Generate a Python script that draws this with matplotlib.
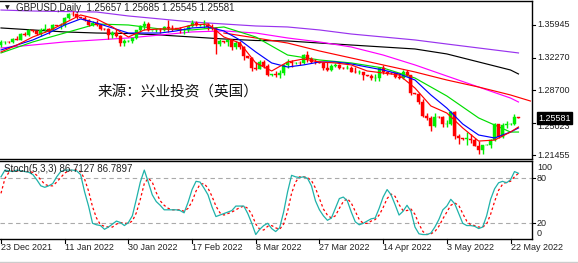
import matplotlib
matplotlib.use("Agg")
import matplotlib.pyplot as plt
import matplotlib.transforms as mtransforms
from matplotlib.patches import Rectangle

# ---------------- data ----------------
opens = [1.3365,1.3400,1.3405,1.3400,1.3440,1.3430,1.3495,1.3480,1.3530,1.3525,
         1.3490,1.3530,1.3545,1.3535,1.3590,1.3585,1.3595,1.3665,1.3715,1.3710,
         1.3675,1.3670,1.3645,1.3595,1.3615,1.3590,1.3550,1.3545,1.3485,1.3505,
         1.3465,1.3390,1.3410,1.3415,1.3445,1.3530,1.3575,1.3600,1.3530,1.3535,
         1.3540,1.3530,1.3565,1.3560,1.3555,1.3550,1.3530,1.3535,1.3580,1.3610,
         1.3590,1.3595,1.3595,1.3565,1.3555,1.3375,1.3410,1.3400,1.3420,1.3345,
         1.3390,1.3345,1.3245,1.3230,1.3110,1.3105,1.3180,1.3135,1.3040,1.3045,
         1.3035,1.3060,1.3145,1.3180,1.3170,1.3175,1.3170,1.3255,1.3215,1.3185,
         1.3180,1.3175,1.3110,1.3095,1.3140,1.3150,1.3115,1.3110,1.3115,1.3075,
         1.3070,1.3070,1.3035,1.3030,1.3000,1.3000,1.3110,1.3065,1.3060,1.3055,
         1.3010,1.3005,1.3070,1.3035,1.2835,1.2830,1.2740,1.2580,1.2555,1.2475,
         1.2575,1.2570,1.2490,1.2495,1.2625,1.2355,1.2335,1.2330,1.2330,1.2315,
         1.2250,1.2205,1.2260,1.2265,1.2315,1.2490,1.2350,1.2485,1.2490,1.2495,
         1.25657]
highs = [1.3420,1.3415,1.3410,1.3450,1.3465,1.3505,1.3515,1.3545,1.3535,1.3535,
         1.3560,1.3600,1.3560,1.3600,1.3595,1.3610,1.3675,1.3725,1.3750,1.3720,
         1.3685,1.3690,1.3660,1.3640,1.3645,1.3605,1.3555,1.3555,1.3525,1.3545,
         1.3475,1.3440,1.3420,1.3450,1.3535,1.3590,1.3630,1.3620,1.3540,1.3560,
         1.3555,1.3580,1.3645,1.3590,1.3560,1.3565,1.3560,1.3595,1.3645,1.3640,
         1.3600,1.3645,1.3615,1.3600,1.3570,1.3440,1.3415,1.3440,1.3440,1.3410,
         1.3415,1.3355,1.3250,1.3240,1.3185,1.3200,1.3200,1.3160,1.3050,1.3085,
         1.3090,1.3160,1.3210,1.3200,1.3180,1.3195,1.3265,1.3300,1.3240,1.3215,
         1.3185,1.3180,1.3180,1.3160,1.3175,1.3160,1.3120,1.3150,1.3140,1.3125,
         1.3095,1.3075,1.3040,1.3045,1.3050,1.3120,1.3150,1.3080,1.3065,1.3065,
         1.3055,1.3090,1.3090,1.3035,1.2840,1.2840,1.2770,1.2620,1.2585,1.2615,
         1.2580,1.2580,1.2540,1.2640,1.2640,1.2380,1.2340,1.2405,1.2380,1.2340,
         1.2300,1.2265,1.2270,1.2330,1.2500,1.2495,1.2505,1.2525,1.2500,1.2600,
         1.25685]
lows = [1.3345,1.3385,1.3395,1.3390,1.3420,1.3420,1.3470,1.3470,1.3515,1.3475,
        1.3470,1.3510,1.3490,1.3520,1.3575,1.3550,1.3570,1.3655,1.3690,1.3660,
        1.3665,1.3630,1.3580,1.3585,1.3580,1.3530,1.3540,1.3435,1.3445,1.3460,
        1.3360,1.3355,1.3400,1.3390,1.3440,1.3515,1.3530,1.3520,1.3520,1.3510,
        1.3505,1.3520,1.3510,1.3520,1.3545,1.3500,1.3490,1.3510,1.3570,1.3575,
        1.3580,1.3560,1.3540,1.3540,1.3270,1.3355,1.3395,1.3355,1.3315,1.3330,
        1.3330,1.3200,1.3225,1.3085,1.3095,1.3100,1.3115,1.3030,1.3030,1.3010,
        1.3000,1.3040,1.3110,1.3130,1.3160,1.3145,1.3160,1.3180,1.3165,1.3160,
        1.3170,1.3090,1.3085,1.3080,1.3120,1.3100,1.3105,1.3100,1.3070,1.3060,
        1.3050,1.2985,1.3020,1.2980,1.2975,1.2975,1.3050,1.3040,1.3050,1.3000,
        1.2995,1.2990,1.3025,1.2820,1.2825,1.2720,1.2570,1.2540,1.2410,1.2465,
        1.2560,1.2465,1.2460,1.2480,1.2325,1.2275,1.2320,1.2260,1.2280,1.2245,
        1.2165,1.2155,1.2255,1.2230,1.2300,1.2340,1.2340,1.2445,1.2485,1.2480,
        1.25545]
closes = [1.3400,1.3405,1.3400,1.3440,1.3430,1.3495,1.3480,1.3530,1.3525,1.3490,
          1.3530,1.3545,1.3535,1.3590,1.3585,1.3595,1.3665,1.3715,1.3710,1.3675,
          1.3670,1.3645,1.3595,1.3615,1.3590,1.3550,1.3545,1.3485,1.3505,1.3465,
          1.3390,1.3410,1.3415,1.3445,1.3530,1.3575,1.3600,1.3530,1.3535,1.3540,
          1.3530,1.3565,1.3560,1.3555,1.3550,1.3530,1.3535,1.3580,1.3610,1.3590,
          1.3595,1.3595,1.3565,1.3555,1.3375,1.3410,1.3400,1.3420,1.3345,1.3390,
          1.3345,1.3245,1.3230,1.3110,1.3105,1.3180,1.3135,1.3040,1.3045,1.3035,
          1.3060,1.3145,1.3180,1.3170,1.3175,1.3170,1.3255,1.3215,1.3185,1.3180,
          1.3175,1.3110,1.3095,1.3140,1.3150,1.3115,1.3110,1.3115,1.3075,1.3070,
          1.3070,1.3035,1.3030,1.3000,1.3000,1.3110,1.3065,1.3060,1.3055,1.3010,
          1.3005,1.3070,1.3035,1.2835,1.2830,1.2740,1.2580,1.2555,1.2475,1.2575,
          1.2570,1.2490,1.2495,1.2625,1.2355,1.2335,1.2330,1.2330,1.2315,1.2250,
          1.2205,1.2260,1.2265,1.2315,1.2490,1.2350,1.2485,1.2490,1.2495,1.2570,
          1.25581]

# moving averages read at sample bars
fast_idx = list(range(0, 129, 4)) + [130]
ma_red = [1.3292,1.3369,1.3458,1.3525,1.3613,1.3702,1.3658,1.3569,1.3458,1.3536,
          1.3547,1.3547,1.3591,1.3602,1.3458,1.3391,1.3170,1.3081,1.3181,1.3214,
          1.3181,1.3170,1.3148,1.3081,1.3059,1.3037,1.2892,1.2693,1.2615,1.2449,
          1.2304,1.2315,1.2404,1.2460]
ma_blue = [1.3314,1.3369,1.3425,1.3502,1.3591,1.3658,1.3613,1.3558,1.3502,1.3502,
           1.3502,1.3525,1.3558,1.3569,1.3525,1.3425,1.3292,1.3170,1.3125,1.3148,
           1.3181,1.3181,1.3159,1.3125,1.3092,1.3048,1.2981,1.2815,1.2670,1.2493,
           1.2371,1.2338,1.2404,1.2449]
slow_idx = list(range(0, 129, 8)) + [130]
ma_green = [1.3281,1.3403,1.3502,1.3602,1.3591,1.3547,1.3536,1.3569,1.3458,1.3258,
            1.3203,1.3170,1.3114,1.3003,1.2804,1.2560,1.2404,1.2404]
ma_magenta = [1.3336,1.3369,1.3403,1.3425,1.3447,1.3480,1.3514,1.3525,1.3502,1.3447,
              1.3403,1.3347,1.3258,1.3148,1.3025,1.2903,1.2781,1.2737]
ma_black = [1.3558,1.3536,1.3514,1.3502,1.3497,1.3480,1.3458,1.3436,1.3419,1.3414,
            1.3391,1.3369,1.3347,1.3325,1.3270,1.3181,1.3092,1.3048]
ma_purple = [1.3757,1.3746,1.3740,1.3735,1.3691,1.3658,1.3624,1.3602,1.3580,1.3569,
             1.3536,1.3491,1.3458,1.3425,1.3380,1.3336,1.3292,1.3281]
long_idx = [56, 64, 72, 80, 88, 96, 104, 112, 120, 128, 133]
ma_red_long = [1.3502,1.3447,1.3391,1.3303,1.3225,1.3148,1.3070,1.2981,1.2903,1.2815,1.2748]

stoch_k = [82,91,90,89,91,90,89,88,85,78,70,68,70,73,82,89,91,91,91,90,
           85,62,43,20,18,17,12,15,19,23,21,17,21,30,52,75,91,75,58,49,
           44,38,38,38,38,37,34,48,65,76,75,67,58,42,29,31,33,35,37,43,
           43,43,33,20,5,12,17,20,13,9,14,35,62,84,82,81,82,80,70,50,
           38,30,24,27,40,53,55,50,35,22,18,20,23,26,27,40,55,65,58,45,
           31,36,44,36,15,6,5,5,7,15,25,38,43,52,46,33,20,17,17,16,
           13,15,30,52,66,74,76,74,78,89,86.7127]
stoch_d = [60,80,88,90,90,90,89,89,88,84,78,72,70,70,75,81,87,90,91,91,
           89,79,63,42,27,18,16,15,15,19,21,20,20,23,34,52,73,80,75,61,
           50,44,40,38,38,38,36,40,49,63,72,73,67,56,43,34,31,33,35,38,
           41,43,40,32,19,12,11,16,17,14,12,19,36,60,75,82,82,81,77,67,
           53,39,31,27,30,40,49,53,47,36,25,20,20,23,25,31,41,53,59,56,
           45,37,37,39,32,19,9,5,6,9,16,26,35,44,47,44,33,23,18,17,
           15,15,19,32,49,64,72,75,76,82,86.7897]

date_ticks = [0, 16, 32, 48, 64, 80, 96, 112, 128]
date_labels = ["23 Dec 2021", "11 Jan 2022", "30 Jan 2022", "17 Feb 2022", "8 Mar 2022",
               "27 Mar 2022", "14 Apr 2022", "3 May 2022", "22 May 2022"]
price_ticks = [1.35945, 1.32270, 1.28700, 1.25023, 1.21455]
price_labels = ["1.35945", "1.32270", "1.28700", "1.25023", "1.21455"]
last_price = 1.25581

# ---------------- figure ----------------
W, H = 578, 263
fig = plt.figure(figsize=(W / 100, H / 100), dpi=100)
fig.patch.set_facecolor("white")
FONT = "Liberation Sans"
TXT = "#222222"

ax = fig.add_axes([0, 1 - 159 / H, 532 / W, 158 / H])
ax2 = fig.add_axes([0, 1 - 239 / H, 532 / W, 78 / H])

for a in (ax, ax2):
    a.set_xlim(-0.25, 133.4)
    a.set_xticks([])
    a.set_yticks([])
    for s in a.spines.values():
        s.set_color("black")
        s.set_linewidth(1.0)
    a.spines["left"].set_visible(False)

ax.set_ylim(1.2105, 1.3857)
ax2.set_ylim(-0.93, 103.1)

# candles
n = len(closes)
bw = 0.75
for i in range(n):
    o, h, l, c = opens[i], highs[i], lows[i], closes[i]
    col = "#00ee00" if c >= o else "#ff0000"
    ax.vlines(i, l, h, color=col, lw=1.0, zorder=3)
    bot = min(o, c)
    ht = max(abs(c - o), 0.00045)
    ax.add_patch(Rectangle((i - bw / 2, bot), bw, ht, facecolor=col, edgecolor=col,
                           lw=0.3, zorder=4))

lw = 0.85
ax.plot(slow_idx, ma_purple, color="#9933ee", lw=lw, zorder=2)
ax.plot(slow_idx, ma_black, color="black", lw=lw, zorder=2)
ax.plot(slow_idx, ma_magenta, color="#ff00ff", lw=lw, zorder=2)
ax.plot(long_idx, ma_red_long, color="#ff0000", lw=lw, zorder=2)
ax.plot(slow_idx, ma_green, color="#00dd00", lw=lw, zorder=2)
ax.plot(fast_idx, ma_blue, color="#0000ff", lw=lw, zorder=5)
ax.plot(fast_idx, ma_red, color="#ff0000", lw=lw, zorder=5)

# price axis
tr = mtransforms.blended_transform_factory(fig.transFigure, ax.transData)
trt_main = mtransforms.blended_transform_factory(ax.transAxes, ax.transData)
for p, lab in zip(price_ticks, price_labels):
    ax.plot([1.0, 1.006], [p, p], transform=trt_main, color="black", lw=0.8, clip_on=False)
    if abs(p - last_price) < 0.01:
        # nudged just below the current-price box so that it stays readable
        fig.text(537 / W, p - 0.0042, lab, transform=tr, fontsize=6.5, family=FONT,
                 color=TXT, va="center", ha="left")
        continue
    fig.text(537 / W, p, lab, transform=tr, fontsize=6.5, family=FONT, color=TXT, va="center", ha="left")
fig.text(538 / W, last_price, "1.25581", transform=tr, fontsize=6.5, family=FONT, color="white",
         va="center", ha="left", zorder=10,
         bbox=dict(boxstyle="square,pad=0.15", facecolor="black", edgecolor="black"))

# title
fig.text(5 / W, 1 - 8 / H, "\u25bc", fontsize=4.5, family="DejaVu Sans", color=TXT, va="center", ha="left")
fig.text(16 / W, 1 - 8 / H, "GBPUSD,Daily  1.25657 1.25685 1.25545 1.25581", fontsize=7,
         family=FONT, color=TXT, va="center", ha="left")
fig.text(178 / W, 1 - 92 / H, "来源：兴业投资（英国）", fontsize=10.5,
         family=["Noto Sans CJK SC", "DejaVu Sans"], color="#111111", va="center", ha="center")

# stochastic
ax2.axhline(80, color="#aaaaaa", lw=0.8, ls=(0, (4, 3)))
ax2.axhline(20, color="#aaaaaa", lw=0.8, ls=(0, (4, 3)))
ax2.plot(range(n), stoch_d, color="#ff0000", lw=0.9, ls=(0, (2, 2)), zorder=3)
ax2.plot(range(n), stoch_k, color="#20b2aa", lw=0.9, zorder=4)
fig.text(4 / W, 1 - 169 / H, "Stoch(5,3,3) 86.7127 86.7897", fontsize=7, family=FONT, color=TXT,
         va="center", ha="left")
tr2 = mtransforms.blended_transform_factory(fig.transFigure, ax2.transData)
trt = mtransforms.blended_transform_factory(ax2.transAxes, ax2.transData)
for v, lab, va in [(100, "100", "top"), (80, "80", "center"), (20, "20", "center"), (0, "0", "bottom")]:
    fig.text(537 / W, v, lab, transform=tr2, fontsize=6.5, family=FONT, color=TXT, va=va, ha="left")
for v in (80, 20):
    ax2.plot([1.0, 1.006], [v, v], transform=trt, color="black", lw=0.8, clip_on=False)

# date axis
trd = mtransforms.blended_transform_factory(ax2.transData, fig.transFigure)
for t, lab in zip(date_ticks, date_labels):
    ax2.plot([t, t], [1 - 239 / H, 1 - 243 / H], transform=trd, color="black", lw=0.8, clip_on=False)
    fig.text(t, 1 - 248 / H, lab, transform=trd, fontsize=6.5, family=FONT, color=TXT,
             va="center", ha="left")

fig.add_artist(plt.Line2D([0, 1], [1 - 262 / H, 1 - 262 / H], color="#cccccc", lw=1,
                          transform=fig.transFigure))

fig.savefig("out.png", dpi=100, facecolor="white")
